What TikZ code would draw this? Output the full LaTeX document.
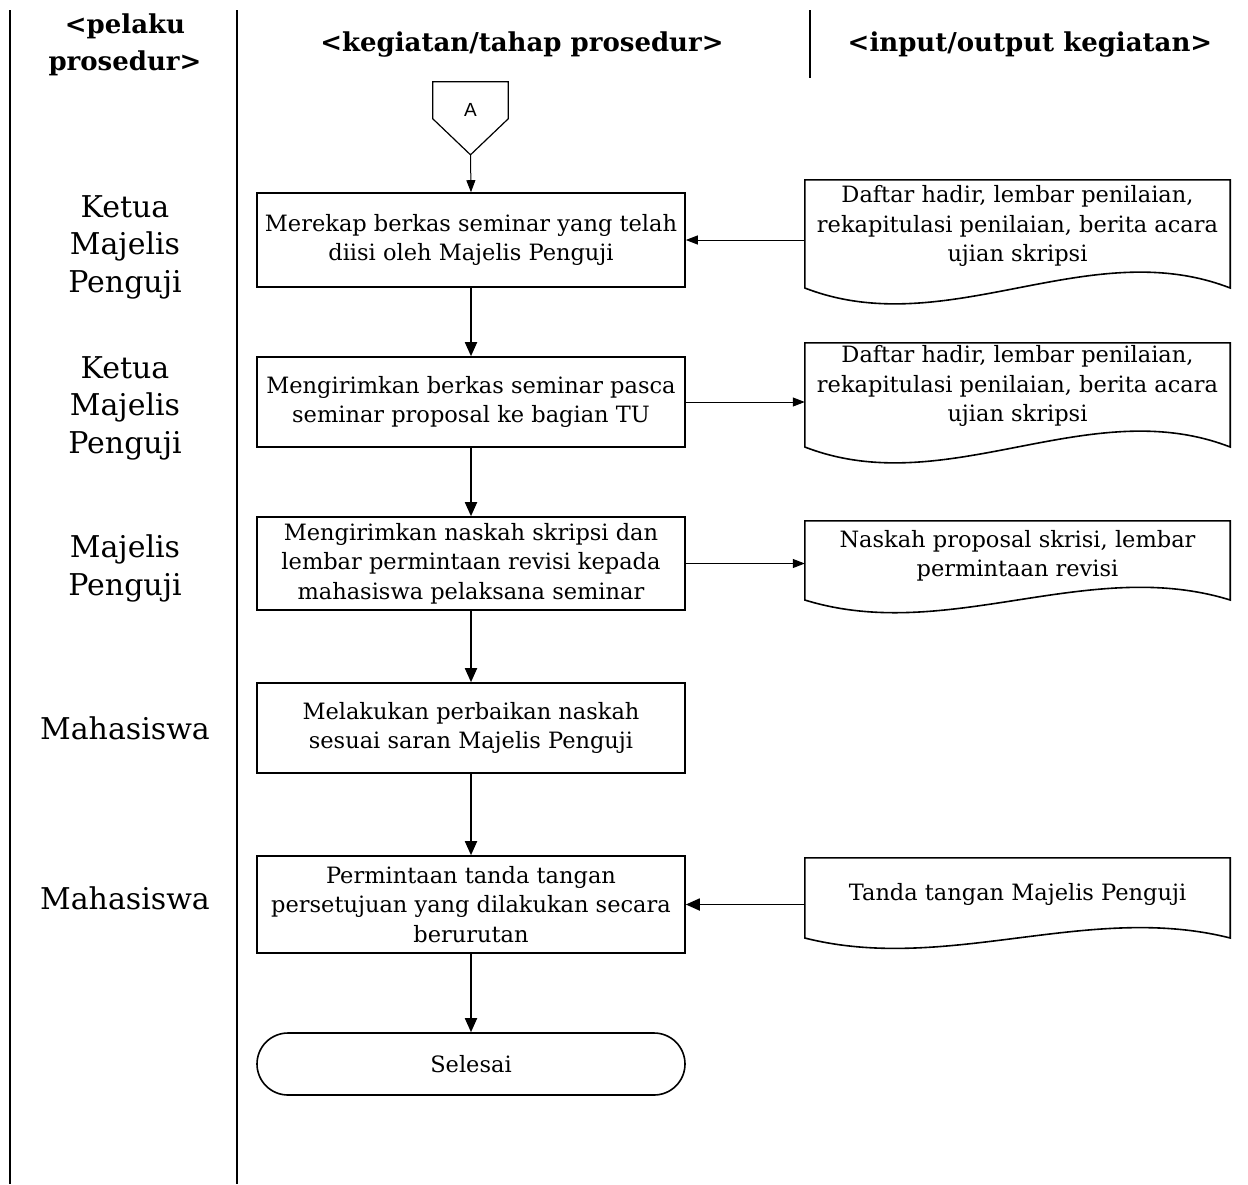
\documentclass[tikz,border=0pt]{standalone}
\usepackage{fontspec}
\setmainfont{DejaVu Serif}
\newfontfamily\connfont{Liberation Sans}
\usetikzlibrary{arrows.meta,calc}

% flowchart document symbol: straight sides, wavy bottom edge at absolute
% y = #2, with control-point offset #3 setting the depth of the wave
\newcommand\docwave[3]{%
  \draw[frame] (#1.north west) -- (#1.north west |- 0,#2)
    .. controls +(142,#3) and +(-142,-#3) .. (#1.north east |- 0,#2)
    -- (#1.north east) -- cycle;}

\begin{document}
\begin{tikzpicture}[x=1pt,y=-1pt,
  frame/.style={line width=1.6pt},
  lane/.style={line width=1.8pt},
  head/.style={font=\fontsize{26}{37}\selectfont\bfseries, align=center},
  actor/.style={font=\fontsize{30}{37.5}\selectfont, align=center},
  proc/.style={draw, frame, minimum width=428pt, inner sep=0pt,
    align=center, font=\fontsize{22.5}{29.5}\selectfont},
  docnode/.style={minimum width=425pt, inner sep=0pt,
    align=center, font=\fontsize{22.5}{29.5}\selectfont},
  flow/.style={line width=1.8pt, -{Triangle[length=14pt,width=12pt]}},
  thin/.style={line width=1pt, -{Triangle[length=12pt,width=9pt]}},
]
\useasboundingbox (0,0) rectangle (1248,1184);

% lane separators
\draw[lane] (10,10) -- (10,1184);
\draw[lane] (237,10) -- (237,1184);
\draw[lane] (810,10) -- (810,78);

% column headers
\node[head] (h1) at (125,45) {<pelaku\\prosedur>};
\node[head] (h2) at (522,45) {<kegiatan/tahap prosedur>};
\node[head] (h3) at (1030,45) {<input/output kegiatan>};

% actors
\node[actor] (a1) at (125,247) {Ketua\\Majelis\\Penguji};
\node[actor] (a2) at (125,408) {Ketua\\Majelis\\Penguji};
\node[actor] (a3) at (125,568.5) {Majelis\\Penguji};
\node[actor] (a4) at (125,728) {Mahasiswa};
\node[actor] (a5) at (125,898) {Mahasiswa};

% off-page connector
\node[minimum width=75pt, minimum height=56pt, inner sep=0pt,
      font=\connfont\fontsize{19}{21}\selectfont] (A) at (470.5,110) {A};
\draw[frame, line width=1.2pt] (A.north west) -- ($(A.north west)+(0,37)$)
  -- ($(A.north)+(0,73)$) coordinate (Atip)
  -- ($(A.north east)+(0,37)$) -- (A.north east) -- cycle;

% process steps
\node[proc, minimum height=94pt] (b1) at (471,240)
  {Merekap berkas seminar yang telah\\diisi oleh Majelis Penguji};
\node[proc, minimum height=90pt] (b2) at (471,402)
  {Mengirimkan berkas seminar pasca\\seminar proposal ke bagian TU};
\node[proc, minimum height=93pt] (b3) at (471,563.5)
  {Mengirimkan naskah skripsi dan\\lembar permintaan revisi kepada\\mahasiswa pelaksana seminar};
\node[proc, minimum height=90pt] (b4) at (471,728)
  {Melakukan perbaikan naskah\\sesuai saran Majelis Penguji};
\node[proc, minimum height=97pt] (b5) at (471,904.5)
  {Permintaan tanda tangan\\persetujuan yang dilakukan secara\\berurutan};
\node[proc, minimum height=62pt, rounded corners=31pt] (end) at (471,1064) {Selesai};

% documents
\node[docnode, minimum height=92pt] (d1) at (1017.5,226)
  {Daftar hadir, lembar penilaian,\\rekapitulasi penilaian, berita acara\\ujian skripsi};
\docwave{d1}{288}{55}
\node[docnode, minimum height=86pt] (d2) at (1017.5,386)
  {Daftar hadir, lembar penilaian,\\rekapitulasi penilaian, berita acara\\ujian skripsi};
\docwave{d2}{447}{55}
\node[docnode, minimum height=70pt] (d3) at (1017.5,556)
  {Naskah proposal skrisi, lembar\\permintaan revisi};
\docwave{d3}{600}{44}
\node[docnode, minimum height=72pt] (d4) at (1017.5,894)
  {Tanda tangan Majelis Penguji};
\docwave{d4}{938}{36}

% connectors
\draw[thin] (Atip) -- (b1.north);
\draw[flow] (b1) -- (b2);
\draw[flow] (b2) -- (b3);
\draw[flow] (b3) -- (b4);
\draw[flow] (b4) -- (b5);
\draw[flow] (b5) -- (end);
\draw[thin] (d1.west |- b1.east) -- (b1.east);
\draw[thin] (b2.east) -- (b2.east -| d2.west);
\draw[thin] (b3.east) -- (b3.east -| d3.west);
\draw[flow] (d4.west |- b5.east) -- (b5.east);
\end{tikzpicture}
\end{document}
